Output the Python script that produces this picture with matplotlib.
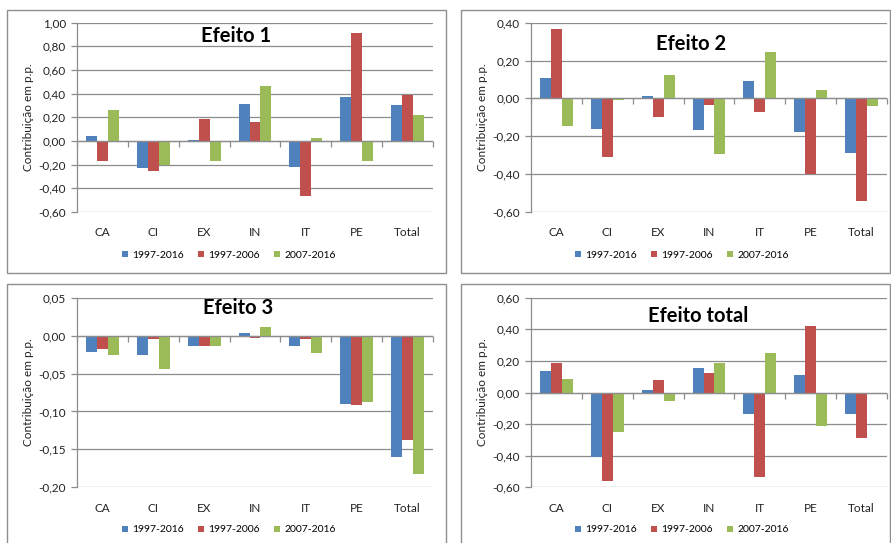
import numpy as np
import matplotlib
matplotlib.use("Agg")
import matplotlib.pyplot as plt
from matplotlib.patches import Rectangle
from matplotlib.ticker import FuncFormatter, FixedLocator

plt.rcParams['font.family'] = ['Lato', 'DejaVu Sans']

categorias = ["CA", "CI", "EX", "IN", "IT", "PE", "Total"]
periodos = ["1997-2016", "1997-2006", "2007-2016"]
cores = ["#4F81BD", "#C0504D", "#9BBB59"]

efeito1_9716 = [0.045, -0.228, 0.010, 0.313, -0.220, 0.375, 0.304]
efeito1_9706 = [-0.166, -0.250, 0.190, 0.163, -0.468, 0.915, 0.389]
efeito1_0716 = [0.260, -0.205, -0.166, 0.468, 0.028, -0.166, 0.220]

efeito2_9716 = [0.109, -0.160, 0.012, -0.165, 0.090, -0.179, -0.290]
efeito2_9706 = [0.369, -0.309, -0.097, -0.035, -0.070, -0.400, -0.541]
efeito2_0716 = [-0.146, -0.009, 0.123, -0.295, 0.244, 0.042, -0.039]

efeito3_9716 = [-0.021, -0.025, -0.014, 0.004, -0.014, -0.090, -0.160]
efeito3_9706 = [-0.018, -0.005, -0.014, -0.003, -0.005, -0.091, -0.138]
efeito3_0716 = [-0.025, -0.044, -0.014, 0.012, -0.023, -0.087, -0.182]

efeitot_9716 = [0.135, -0.407, 0.015, 0.154, -0.139, 0.108, -0.139]
efeitot_9706 = [0.188, -0.563, 0.078, 0.124, -0.534, 0.420, -0.285]
efeitot_0716 = [0.084, -0.251, -0.053, 0.184, 0.253, -0.211, 0.000]

W, H = 891, 543
fig = plt.figure(figsize=(W / 100, H / 100), dpi=100)
fig.patch.set_facecolor("white")

GRID = "#8C8C8C"
BORDER = "#8E8E8E"
TXT = "#222222"


def px_axes(left, top, right, bottom):
    return [left / W, 1 - bottom / H, (right - left) / W, (bottom - top) / H]


def fmt(v, _):
    s = f"{v:.2f}".replace(".", ",")
    if s.startswith("-0,00"):
        s = "0,00"
    return s


paineis = [
    dict(title="Efeito 1", series=[efeito1_9716, efeito1_9706, efeito1_0716],
         ylim=(-0.6, 1.0), step=0.2, box=(7, 9.5, 445.5, 273),
         plot=(77, 22.7, 433, 212), title_xy=(236, 36), legend_xy=(229, 255)),
    dict(title="Efeito 2", series=[efeito2_9716, efeito2_9706, efeito2_0716],
         ylim=(-0.6, 0.4), step=0.2, box=(461, 9.5, 890, 273),
         plot=(531, 22.7, 887, 212), title_xy=(691, 44), legend_xy=(682, 255)),
    dict(title="Efeito 3", series=[efeito3_9716, efeito3_9706, efeito3_0716],
         ylim=(-0.2, 0.05), step=0.05, box=(7, 284, 445.5, 560),
         plot=(77, 297.7, 433, 487.3), title_xy=(238, 308), legend_xy=(229, 530)),
    dict(title="Efeito total", series=[efeitot_9716, efeitot_9706, efeitot_0716],
         ylim=(-0.6, 0.6), step=0.2, box=(461, 284, 890, 560),
         plot=(531, 297.7, 887, 487.3), title_xy=(698, 316), legend_xy=(682, 530)),
]

x = np.arange(len(categorias))
largura = 0.215

for p in paineis:
    bl, bt, br, bb = p["box"]
    fig.patches.append(Rectangle((bl / W, 1 - bb / H), (br - bl) / W, (bb - bt) / H,
                                 transform=fig.transFigure, fill=False,
                                 edgecolor=BORDER, linewidth=1.0, zorder=0))

    ax = fig.add_axes(px_axes(*p["plot"]))
    ymin, ymax = p["ylim"]
    ticks = np.round(np.arange(ymin, ymax + p["step"] / 2, p["step"]), 4)

    # horizontal gridlines, including the zero line the categories sit on
    for t in ticks:
        ax.axhline(t, color=GRID, linewidth=0.9, zorder=1)
    ax.axhline(0, color=GRID, linewidth=0.9, zorder=3)

    handles = []
    for i, (serie, cor) in enumerate(zip(p["series"], cores)):
        h = ax.bar(x + (i - 1) * largura, serie, width=largura, color=cor,
                   zorder=2, label=periodos[i])
        handles.append(h)

    ax.set_xlim(-0.5, len(categorias) - 0.5)
    ax.set_ylim(ymin, ymax)
    ax.yaxis.set_major_locator(FixedLocator(ticks))
    ax.yaxis.set_major_formatter(FuncFormatter(fmt))
    ax.tick_params(axis="y", direction="out", length=4, width=0.9, color=GRID,
                   pad=4, labelsize=8.5, labelcolor=TXT)

    ax.set_xticks(x)
    ax.set_xticklabels(categorias)
    ax.tick_params(axis="x", length=0, pad=11, labelsize=8.5, labelcolor=TXT)

    for s in ["top", "right", "bottom"]:
        ax.spines[s].set_visible(False)
    ax.spines["left"].set_color(GRID)
    ax.spines["left"].set_linewidth(0.9)

    # boundary tick marks hanging below the zero line
    zero_frac = (0 - ymin) / (ymax - ymin)
    sec = ax.secondary_xaxis(zero_frac)
    sec.set_xticks(np.arange(-0.5, len(categorias), 1.0))
    sec.set_xticklabels([])
    sec.tick_params(axis="x", which="both", direction="out", length=4, width=0.9,
                    color=GRID, bottom=True, top=False)
    for s in sec.spines.values():
        s.set_visible(False)

    ax.set_ylabel("Contribuição em p.p.", fontsize=8.5, color=TXT, labelpad=3)

    tx, ty = p["title_xy"]
    fig.text(tx / W, 1 - ty / H, p["title"], ha="center", va="center",
             fontsize=14.5, fontweight="bold", color="black")

    lx, ly = p["legend_xy"]
    ax.legend(handles=handles, loc="center", bbox_to_anchor=(lx / W, 1 - ly / H),
              bbox_transform=fig.transFigure, ncol=3, frameon=False,
              fontsize=7.5, handlelength=0.6, handleheight=0.6, handletextpad=0.4,
              columnspacing=1.35, borderpad=0)

fig.savefig("out.png", dpi=100, facecolor="white")
